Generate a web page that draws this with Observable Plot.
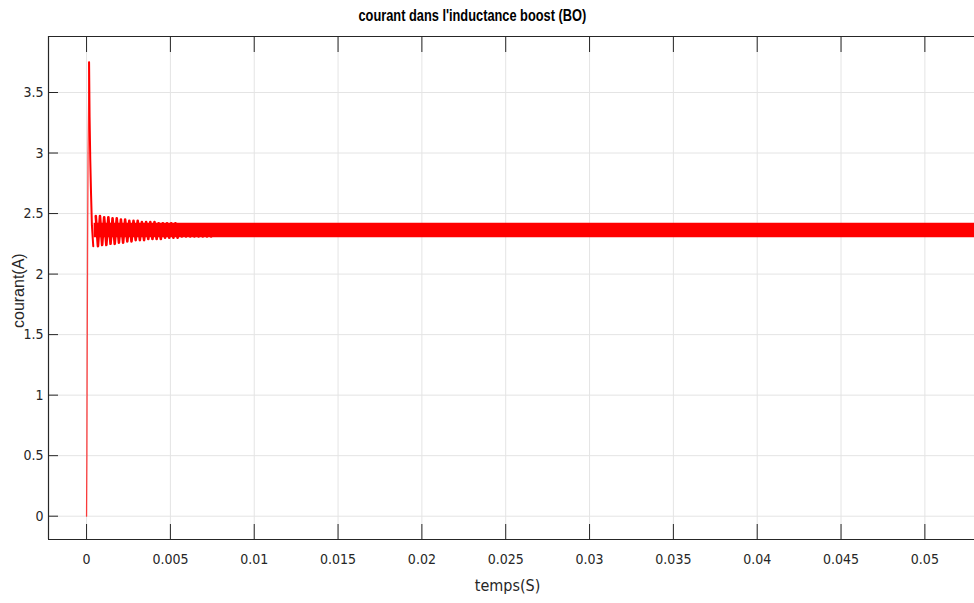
<!DOCTYPE html>
<html>
<head>
<meta charset="utf-8">
<script src="https://cdn.jsdelivr.net/npm/d3@7"></script>
<script src="https://cdn.jsdelivr.net/npm/@observablehq/plot@0.6"></script>
<style>
  html, body { margin: 0; padding: 0; background: #fff; }
  #wrap { position: relative; width: 974px; height: 603px; }
  #title { position: absolute; top: 7px; left: 0; width: 945px; text-align: center; }
  #title span { display: inline-block; transform: scaleX(0.8); transform-origin: center;
           font: bold 16px "Liberation Sans", Arial, sans-serif; color: #000; }
</style>
</head>
<body>
<div id="wrap"><div id="title"><span>courant dans l'inductance boost (BO)</span></div></div>
<script>
// ---- data ----
const xDomain = [-0.00227, 0.05296];
const yDomain = [-0.1925, 3.9626];
const xTicks = [0, 0.005, 0.01, 0.015, 0.02, 0.025, 0.03, 0.035, 0.04, 0.045, 0.05];
const yTicks = [0, 0.5, 1, 1.5, 2, 2.5, 3, 3.5];

// start-up transient (fast rise)
const riseT = [0, 0.00002, 0.00004, 0.00006, 0.00009, 0.00012, 0.00015];
const riseV = [0, 0.5, 1.45, 2.2, 3.0, 3.35, 3.75];
// fall after the overshoot
const fallT = [0.00015, 0.00018, 0.00022, 0.00027, 0.00032, 0.00040];
const fallV = [3.75, 3.3, 2.95, 2.65, 2.4, 2.23];

// damped oscillation peaks / troughs
const peakT = [0.00055, 0.00080, 0.00105, 0.00130, 0.00155, 0.00180, 0.00205, 0.00230, 0.00255, 0.00280,
               0.00305, 0.00330, 0.00355, 0.00380, 0.00405, 0.00430, 0.00455, 0.00480, 0.00505, 0.00530,
               0.00555, 0.00580, 0.00605, 0.00630, 0.00655, 0.00680, 0.00705, 0.00730];
const peakV = [2.48, 2.48, 2.47, 2.47, 2.46, 2.46, 2.45, 2.45, 2.44, 2.44,
               2.44, 2.43, 2.43, 2.43, 2.43, 2.42, 2.42, 2.42, 2.42, 2.42,
               2.41, 2.41, 2.41, 2.41, 2.41, 2.41, 2.41, 2.41];
const troughT = [0.00068, 0.00093, 0.00118, 0.00143, 0.00168, 0.00193, 0.00218, 0.00243, 0.00268, 0.00293,
                 0.00318, 0.00343, 0.00368, 0.00393, 0.00418, 0.00443, 0.00468, 0.00493, 0.00518, 0.00543,
                 0.00568, 0.00593, 0.00618, 0.00643, 0.00668, 0.00693, 0.00718, 0.00743];
const troughV = [2.23, 2.24, 2.24, 2.25, 2.25, 2.26, 2.26, 2.27, 2.27, 2.28,
                 2.28, 2.28, 2.29, 2.29, 2.29, 2.29, 2.30, 2.30, 2.30, 2.30,
                 2.31, 2.31, 2.31, 2.31, 2.31, 2.31, 2.31, 2.31];

// steady-state switching ripple band
const bandT = [0.00045, 0.0535];
const bandLo = [2.30, 2.30];
const bandHi = [2.42, 2.42];

// ---- build tables ----
const rise = riseT.map((t, i) => ({t, v: riseV[i]}));
const fall = fallT.map((t, i) => ({t, v: fallV[i]}));
const osc = peakT.map((t, i) => ({t, v: peakV[i]}))
  .concat(troughT.map((t, i) => ({t, v: troughV[i]})))
  .sort((a, b) => a.t - b.t);
const band = bandT.map((t, i) => ({t, lo: bandLo[i], hi: bandHi[i]}));
const fmt = d => String(+d.toFixed(3));
const ink = "#262626";
const grid = "#e4e4e4";

const chart = Plot.plot({
  width: 974,
  height: 603,
  marginLeft: 48,
  marginTop: 36,
  marginRight: 0,
  marginBottom: 64,
  x: {domain: xDomain},
  y: {domain: yDomain},
  style: {fontFamily: '"Liberation Sans Narrow", "DejaVu Sans Condensed", "Liberation Sans", sans-serif', fontSize: "14px", color: ink, background: "#fff"},
  marks: [
    Plot.gridX(xTicks, {stroke: grid, strokeOpacity: 1}),
    Plot.gridY(yTicks, {stroke: grid, strokeOpacity: 1}),
    Plot.areaY(band, {x: "t", y1: "lo", y2: "hi", fill: "#ff0000", clip: true}),
    Plot.line(rise, {x: "t", y: "v", stroke: "#ff0000", strokeWidth: 1.3, strokeOpacity: 0.75}),
    Plot.line(fall, {x: "t", y: "v", stroke: "#ff0000", strokeWidth: 2}),
    Plot.line(osc, {x: "t", y: "v", stroke: "#ff0000", strokeWidth: 2.6}),
    Plot.ruleX([xDomain[0]], {stroke: ink, strokeWidth: 1.2}),
    Plot.ruleY([yDomain[0]], {stroke: ink, strokeWidth: 1.2}),
    Plot.ruleY([yDomain[1]], {stroke: ink, strokeWidth: 1.2}),
    Plot.axisX(xTicks, {anchor: "bottom", tickSize: -15, tickFormat: () => "", label: null, stroke: ink}),
    Plot.axisX(xTicks, {anchor: "top", tickSize: -15, tickFormat: () => "", label: null, stroke: ink}),
    Plot.axisY(yTicks, {anchor: "left", tickSize: -10, tickFormat: () => "", label: null, stroke: ink}),
    Plot.axisX(xTicks, {anchor: "bottom", tickSize: 0, tickPadding: 15, tickFormat: fmt, label: null, fill: ink}),
    Plot.axisY(yTicks, {anchor: "left", tickSize: 0, tickPadding: 5, tickFormat: fmt, label: null, fill: ink}),
    Plot.text(["temps(S)"], {frameAnchor: "bottom", dy: 51, dx: -4, text: d => d, fill: ink, fontSize: 16}),
    Plot.text(["courant(A)"], {frameAnchor: "left", dx: -30, dy: 40, rotate: -90, text: d => d, fill: ink, fontSize: 16, fontFamily: '"Liberation Sans", Arial, sans-serif'})
  ]
});
document.getElementById("wrap").prepend(chart);
</script>
</body>
</html>
